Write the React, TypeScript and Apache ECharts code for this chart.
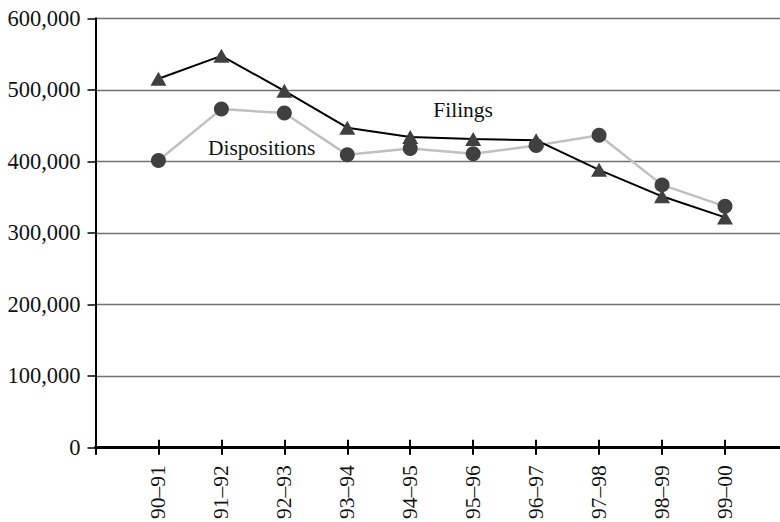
import React, { useEffect, useRef } from "react";
import * as echarts from "echarts";

const categories = ["90–91", "91–92", "92–93", "93–94", "94–95", "95–96", "96–97", "97–98", "98–99", "99–00"];
const filings = [515500, 547500, 498500, 447000, 434000, 431000, 429500, 388000, 351000, 321500];
const dispositions = [401000, 473000, 467500, 409000, 418000, 410500, 422000, 436500, 367000, 337000];
const yTicks = [0, 100000, 200000, 300000, 400000, 500000, 600000];
const xTickPositions = [0, 1, 2, 3, 4, 5, 6, 7, 8, 9, 10];
const xLabelPositions = [1, 2, 3, 4, 5, 6, 7, 8, 9, 10];

const FONT = "'Liberation Serif', 'Times New Roman', serif";

export default function App() {
  const ref = useRef<HTMLDivElement>(null);
  useEffect(() => {
    if (!ref.current) return;
    const chart = echarts.init(ref.current, undefined, { renderer: "svg" });
    const fmt = (v: number) => v.toLocaleString("en-US");
    const xMax = 10.874;
    const baseX = {
      type: "value" as const,
      min: 0,
      max: xMax,
      interval: 1,
      position: "bottom" as const,
      splitLine: { show: false },
    };
    chart.setOption({
      animation: false,
      grid: { left: 95.5, right: 0, top: 18.3, bottom: 72.7, containLabel: false },
      xAxis: [
        {
          ...baseX,
          axisLine: { show: true, lineStyle: { color: "#000", width: 2.8 } },
          axisTick: { show: true, inside: false, length: 7.5, lineStyle: { color: "#000", width: 2 }, customValues: xTickPositions },
          axisLabel: {
            show: true,
            rotate: 90,
            margin: 18,
            fontFamily: FONT,
            fontSize: 21.5,
            color: "#111",
            customValues: xLabelPositions,
            formatter: (v: number) => categories[Math.round(v) - 1] ?? "",
          },
        },
        {
          ...baseX,
          axisLine: { show: false },
          axisTick: { show: true, inside: true, length: 7.5, lineStyle: { color: "#000", width: 2 }, customValues: xTickPositions },
          axisLabel: { show: false },
        },
      ],
      yAxis: {
        type: "value",
        min: yTicks[0],
        max: yTicks[yTicks.length - 1],
        interval: 100000,
        axisLine: { show: true, lineStyle: { color: "#000", width: 2 } },
        axisTick: { show: true, length: 8, lineStyle: { color: "#000", width: 1.5 } },
        axisLabel: { margin: 15, fontFamily: FONT, fontSize: 22.5, color: "#111", formatter: fmt },
        splitLine: { show: true, lineStyle: { color: "#707070", width: 1.4 } },
      },
      series: [
        {
          name: "Dispositions",
          type: "line",
          xAxisIndex: 0,
          data: dispositions.map((v, i) => [i + 1, v]),
          symbol: "circle",
          symbolSize: 15,
          lineStyle: { color: "#c0c0c0", width: 2.5 },
          itemStyle: { color: "#404040" },
          markPoint: {
            symbol: "circle",
            symbolSize: 0,
            data: [{ coord: [2.64, 418000], value: "Dispositions" }],
            label: { show: true, position: "inside", formatter: "Dispositions", fontFamily: FONT, fontSize: 21.5, color: "#111" },
          },
        },
        {
          name: "Filings",
          type: "line",
          xAxisIndex: 0,
          data: filings.map((v, i) => [i + 1, v]),
          symbol: "triangle",
          symbolSize: [16, 14],
          lineStyle: { color: "#000", width: 2 },
          itemStyle: { color: "#404040" },
          markPoint: {
            symbol: "circle",
            symbolSize: 0,
            data: [{ coord: [5.84, 472400], value: "Filings" }],
            label: { show: true, position: "inside", formatter: "Filings", fontFamily: FONT, fontSize: 21.5, color: "#111" },
          },
        },
      ],
    });
    return () => chart.dispose();
  }, []);
  return <div ref={ref} style={{ position: "fixed", left: 0, top: 0, width: 780, height: 522, background: "#fff" }} />;
}
